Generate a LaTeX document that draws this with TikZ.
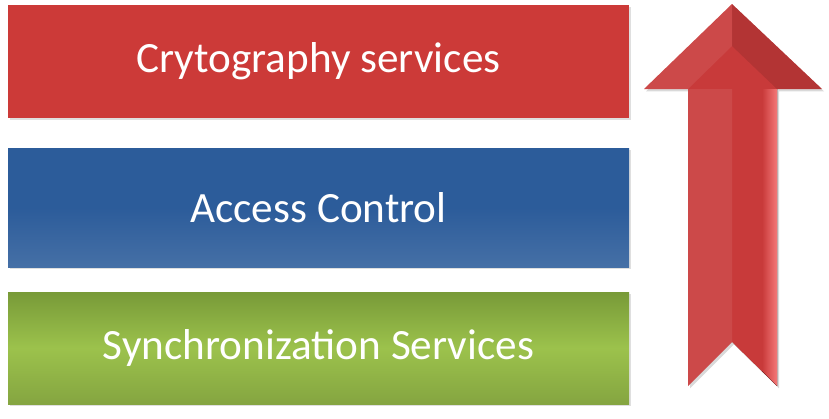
\documentclass[tikz,border=0pt]{standalone}
\usepackage{fontspec}
\setmainfont{Carlito}
\usetikzlibrary{shadows}

\definecolor{barred}{RGB}{204,58,56}
\definecolor{barblue}{RGB}{44,92,154}
\definecolor{bargreenTop}{RGB}{120,154,56}
\definecolor{bargreenMid}{RGB}{156,194,76}
\definecolor{arrowdark}{RGB}{200,58,58}
\definecolor{arrowlight}{RGB}{244,120,120}

\begin{document}
\begin{tikzpicture}[
        x=0.5pt, y=-0.5pt,
        layer/.style={rectangle, minimum width=310.5pt, inner sep=0pt, text=white,
            font=\fontsize{21.6}{25}\selectfont,
            drop shadow={opacity=0.25, shadow xshift=1pt, shadow yshift=-1.2pt}},
        upshape/.style={fill=arrowdark,
            drop shadow={opacity=0.3, shadow xshift=1pt, shadow yshift=-1.2pt}}
    ]
        \useasboundingbox (0,0) rectangle (829,418);

        % the three layers
        \node[layer, minimum height=56.5pt, fill=barred] (crypto) at (318.5,61.5) {Crytography services};
        \node[layer, minimum height=59.5pt, top color=barblue, bottom color=barblue!88!white,
              middle color=barblue] (access) at (318.5,207.5) {Access Control};
        \node[layer, minimum height=56pt, top color=bargreenTop, bottom color=bargreenMid!85!black,
              middle color=bargreenMid] (sync) at (318.5,348) {Synchronization Services};

        % arrow on the right
        \fill[upshape] (732,4) -- (822,89) -- (777,89) -- (777,386) -- (732,342)
            -- (688,386) -- (688,89) -- (644,89) -- cycle;
        \fill[white, opacity=0.08] (688,89) -- (732,89) -- (732,342) -- (688,386) -- cycle;
        \fill[left color=arrowdark, right color=arrowlight] (762,89) -- (777,89) -- (777,386) -- (762,371) -- cycle;
        \fill[black, opacity=0.1] (732,4) -- (822,89) -- (777,89) -- (732,46) -- cycle;
        \fill[white, opacity=0.08] (732,4) -- (644,89) -- (688,89) -- (732,46) -- cycle;
        \fill[black, opacity=0.12] (732,342) -- (777,386) -- (762,371) -- (732,342) -- cycle;

\end{tikzpicture}
\end{document}
